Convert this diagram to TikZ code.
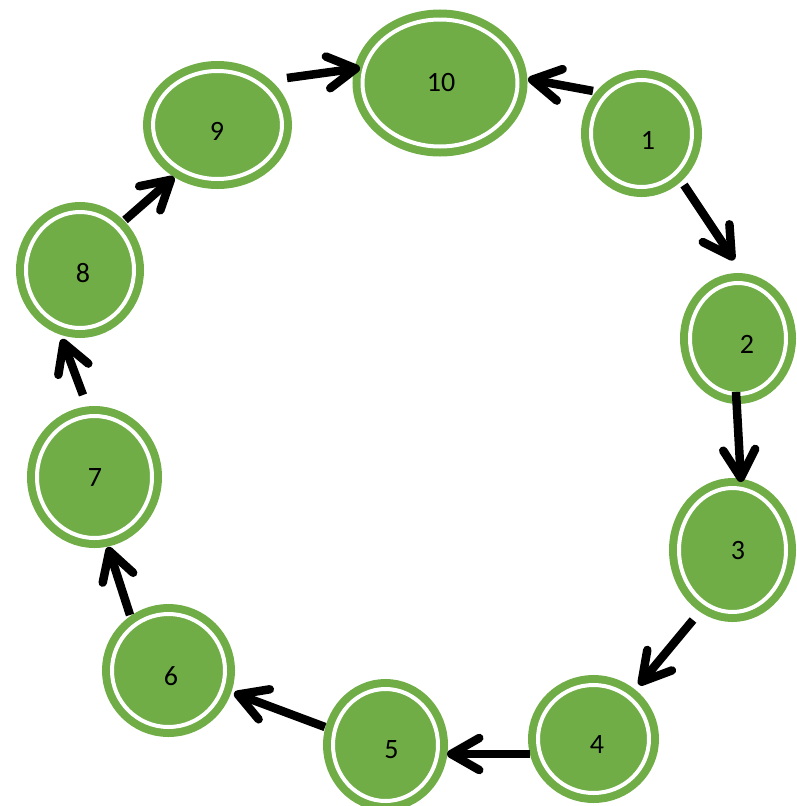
\documentclass[tikz,border=0pt]{standalone}
\usepackage{fontspec}
\setmainfont{Carlito}
\usetikzlibrary{shapes.geometric,arrows.meta,calc}
\definecolor{G}{HTML}{70AD47}
\begin{document}
\begin{tikzpicture}[x=1pt,y=-1pt,
  gnode/.style={ellipse, fill=G, draw=white, line width=4pt,
    preaction={draw=G, line width=20pt}, inner sep=0pt, outer sep=0pt},
  lbl/.style={font=\fontsize{28}{30}\selectfont, text=black, inner sep=0pt},
  arr/.style={line width=8.5pt, draw=black, line cap=butt,
    -{Straight Barb[length=28pt,width=32pt,round]}}
]
\useasboundingbox (0,0) rectangle (796,806);
\node[gnode, minimum width=155pt, minimum height=127pt,
  label={[lbl,xshift=1pt]center:10}] (n10) at (440,83) {};
\node[gnode, minimum width=101pt, minimum height=107pt,
  label={[lbl,xshift=6.5pt,yshift=-6.5pt]center:1}] (n1) at (641.5,133.5) {};
\node[gnode, minimum width=96pt, minimum height=111pt,
  label={[lbl,xshift=9pt,yshift=-5.5pt]center:2}] (n2) at (738,338.5) {};
\node[gnode, minimum width=107pt, minimum height=124pt,
  label={[lbl,xshift=5.5pt,yshift=-1pt]center:3}] (n3) at (732.5,550) {};
\node[gnode, minimum width=111pt, minimum height=108pt,
  label={[lbl,xshift=3.5pt,yshift=-6pt]center:4}] (n4) at (593.5,739) {};
\node[gnode, minimum width=105pt, minimum height=112pt,
  label={[lbl,xshift=6pt,yshift=-5pt]center:5}] (n5) at (385.5,745) {};
\node[gnode, minimum width=113pt, minimum height=113pt,
  label={[lbl,xshift=2.5pt,yshift=-5.5pt]center:6}] (n6) at (168.5,670.5) {};
\node[gnode, minimum width=115pt, minimum height=122pt,
  label={[lbl,xshift=0.5pt,yshift=-1pt]center:7}] (n7) at (94.5,477) {};
\node[gnode, minimum width=108pt, minimum height=116pt,
  label={[lbl,xshift=3pt,yshift=-3pt]center:8}] (n8) at (80,270) {};
\node[gnode, minimum width=129pt, minimum height=108pt,
  label={[lbl,xshift=-0.5pt,yshift=-6pt]center:9}] (n9) at (217.5,125) {};

\draw[arr] ($(n1)+(-48.5,-42.5)$) -- ($(n10)+(88,-4)$);
\draw[arr] ($(n1)+(42.5,51.5)$) -- ($(n2)+(-4,-78.5)$);
\draw[arr] ($(n2)+(-2,53.5)$) -- ($(n3)+(8.5,-68)$);
\draw[arr] ($(n3)+(-39.5,70)$) -- ($(n4)+(45.5,-54)$);
\draw[arr] ($(n4)+(-63.5,15)$) -- ($(n5)+(61.5,9)$);
\draw[arr] ($(n5)+(-60.5,-18)$) -- ($(n6)+(65.5,22.5)$);
\draw[arr] ($(n6)+(-38.5,-55.5)$) -- ($(n7)+(13.5,70)$);
\draw[arr] ($(n7)+(-11.5,-82)$) -- ($(n8)+(-18,69)$);
\draw[arr] ($(n8)+(45,-50)$) -- ($(n9)+(-43.5,52)$);
\draw[arr] ($(n9)+(69.5,-47)$) -- ($(n10)+(-80,-15)$);
\end{tikzpicture}
\end{document}
